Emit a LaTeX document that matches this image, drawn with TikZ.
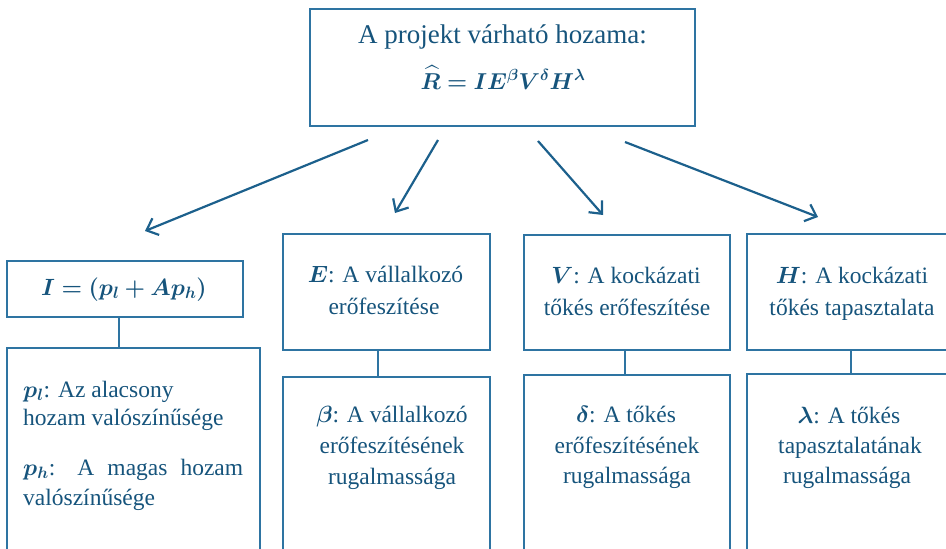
\documentclass[tikz,border=0pt]{standalone}
\usepackage{fix-cm}
\usepackage{amsmath,bm}
\usepackage{fontspec}
\setmainfont{Liberation Serif}
\usetikzlibrary{arrows.meta,calc}
\definecolor{txt}{RGB}{22,84,124}
\definecolor{ln}{RGB}{46,116,162}
\definecolor{arr}{RGB}{28,96,140}
\tikzset{
 box/.style={draw=ln, line width=2pt, rectangle, inner sep=0pt},
 tl/.style={anchor=base, text=txt, inner sep=0pt, font=\fontsize{23.5}{30}\selectfont},
 tt/.style={anchor=base, text=txt, inner sep=0pt, font=\fontsize{27}{32}\selectfont},
 tf/.style={anchor=base, text=txt, inner sep=0pt, font=\fontsize{23}{28}\selectfont},
 arrowline/.style={draw=arr, line width=2.2pt, -{Straight Barb[length=10pt,width=18pt,line width=2.2pt]}},
 link/.style={draw=ln, line width=2pt}
}
\begin{document}
\begin{tikzpicture}[x=1pt,y=-1pt]
\useasboundingbox (0,0) rectangle (946,549);
% boxes
\node[box, minimum width=385pt, minimum height=117pt] (top) at (502.5,67.5) {};
\node[box, minimum width=236pt, minimum height=56pt] (I) at (125,289) {};
\node[box, minimum width=253pt, minimum height=272pt] (Ilow) at (133.5,484) {};
\node[box, minimum width=207pt, minimum height=116pt] (E) at (386.5,292) {};
\node[box, minimum width=207pt, minimum height=243pt] (Elow) at (386.5,498.5) {};
\node[box, minimum width=206pt, minimum height=115pt] (V) at (627,292.5) {};
\node[box, minimum width=206pt, minimum height=245pt] (Vlow) at (627,497.5) {};
\node[box, minimum width=207pt, minimum height=116pt] (H) at (850.5,292) {};
\node[box, minimum width=207pt, minimum height=246pt] (Hlow) at (850.5,497) {};
% links
\draw[link] ([xshift=-6pt]I.south) -- ([xshift=-6pt]I.south |- Ilow.north);
\draw[link] ([xshift=-8.5pt]E.south) -- ([xshift=-8.5pt]E.south |- Elow.north);
\draw[link] ([xshift=-2pt]V.south) -- ([xshift=-2pt]V.south |- Vlow.north);
\draw[link] (H.south) -- (H.south |- Hlow.north);
% arrows
\coordinate (a1s) at (368,140); \coordinate (a1e) at (145,231);
\coordinate (a2s) at (438,140); \coordinate (a2e) at (395,213);
\coordinate (a3s) at (538,141); \coordinate (a3e) at (603,215);
\coordinate (a4s) at (625,142); \coordinate (a4e) at (818,217);
\draw[arrowline] (a1s) -- (a1e);
\draw[arrowline] (a2s) -- (a2e);
\draw[arrowline] (a3s) -- (a3e);
\draw[arrowline] (a4s) -- (a4e);
% texts
\node[tt] (t1) at (502.5,43) {A projekt várható hozama:};
\node[tf] (t2) at (503,89) {$\bm{\widehat{R} = IE^{\beta}V^{\delta}H^{\lambda}}$};
\node[tl] (i1) at (124,295) {$\bm{I = (p_l + Ap_h)}$};
\node[tl, anchor=base west] (il1) at (23,397) {$\bm{p_l}$: Az alacsony};
\node[tl, anchor=base west] (il2) at (23,425) {hozam valószínűsége};
\node[tl, anchor=base west] (il3) at (23,475) {\makebox[220pt][s]{$\bm{p_h}$: A magas hozam}};
\node[tl, anchor=base west] (il4) at (23,505) {valószínűsége};
\node[tl] (e1) at (385.5,282) {$\bm{E}$: A vállalkozó};
\node[tl] (e2) at (384,314) {erőfeszítése};
\node[tl] (b1) at (392,422) {$\bm{\beta}$: A vállalkozó};
\node[tl] (b2) at (392,453) {erőfeszítésének};
\node[tl] (b3) at (392,484) {rugalmassága};
\node[tl] (v1) at (626,283) {$\bm{V}$: A kockázati};
\node[tl] (v2) at (627,315) {tőkés erőfeszítése};
\node[tl] (d1) at (626,422) {$\bm{\delta}$: A tőkés};
\node[tl] (d2) at (627,453) {erőfeszítésének};
\node[tl] (d3) at (627,483) {rugalmassága};
\node[tl] (h1) at (852,283) {$\bm{H}$: A kockázati};
\node[tl] (h2) at (852,315) {tőkés tapasztalata};
\node[tl] (l1) at (849,423) {$\bm{\lambda}$: A tőkés};
\node[tl] (l2) at (850,453) {tapasztalatának};
\node[tl] (l3) at (847,483) {rugalmassága};
\end{tikzpicture}
\end{document}
